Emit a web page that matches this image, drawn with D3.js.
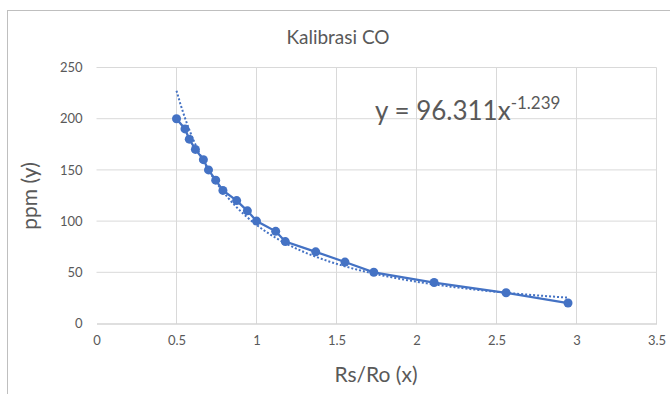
<!DOCTYPE html>
<html>
<head>
<meta charset="utf-8">
<script src="https://cdn.jsdelivr.net/npm/d3@7"></script>
<style>
  body { margin: 0; background: #fff; }
  text { font-family: Lato, "Open Sans", sans-serif; fill: #595959; }
</style>
</head>
<body>
<div id="chart-area"></div>
<script>
/*
*    Kalibrasi CO
*/

var rsRo = [0.5, 0.553, 0.58, 0.618, 0.668, 0.70, 0.745, 0.79, 0.876, 0.943, 1.0, 1.12, 1.18, 1.37, 1.553, 1.733, 2.11, 2.56, 2.947];
var ppm = [200, 190, 180, 170, 160, 150, 140, 130, 120, 110, 100, 90, 80, 70, 60, 50, 40, 30, 20];
var xTicks = [0, 0.5, 1, 1.5, 2, 2.5, 3, 3.5];
var yTicks = [0, 50, 100, 150, 200, 250];
var trendA = 96.311;
var trendB = -1.239;

var points = rsRo.map(function(d, i) { return { x: d, y: ppm[i] }; });

var svg = d3.select("#chart-area").append("svg")
    .attr("width", 670)
    .attr("height", 394);

// chart frame
svg.append("rect")
    .attr("x", 7.5)
    .attr("y", 10.5)
    .attr("width", 700)
    .attr("height", 420)
    .attr("fill", "white")
    .attr("stroke", "#bfbfbf");

var x = d3.scaleLinear().domain([0, 3.5]).range([96.5, 656.5]);
var y = d3.scaleLinear().domain([0, 250]).range([323.5, 67.5]);

// gridlines
svg.append("g").selectAll("line.h")
    .data(yTicks.slice(1))
    .enter().append("line")
    .attr("x1", x(0)).attr("x2", x(3.5))
    .attr("y1", function(d) { return y(d); })
    .attr("y2", function(d) { return y(d); })
    .attr("stroke", "#d9d9d9");

svg.append("g").selectAll("line.v")
    .data(xTicks.slice(1))
    .enter().append("line")
    .attr("x1", function(d) { return x(d); })
    .attr("x2", function(d) { return x(d); })
    .attr("y1", y(0)).attr("y2", y(250))
    .attr("stroke", "#d9d9d9");

// axes
var xAxis = svg.append("g")
    .attr("transform", "translate(0," + y(0) + ")")
    .call(d3.axisBottom(x).tickValues(xTicks).tickSize(0).tickPadding(12)
        .tickFormat(function(d) { return d; }));
xAxis.select(".domain").attr("stroke", "#bfbfbf");
xAxis.selectAll("text").attr("font-size", 13).attr("fill", "#595959");

var yAxis = svg.append("g")
    .attr("transform", "translate(" + x(0) + ",0)")
    .call(d3.axisLeft(y).tickValues(yTicks).tickSize(0).tickPadding(14));
yAxis.select(".domain").remove();
yAxis.selectAll("text").attr("font-size", 13).attr("fill", "#595959");

// trendline (power)
var trend = d3.range(0, 101).map(function(i) {
    var xv = rsRo[0] + (rsRo[rsRo.length - 1] - rsRo[0]) * i / 100;
    return { x: xv, y: trendA * Math.pow(xv, trendB) };
});

var line = d3.line()
    .x(function(d) { return x(d.x); })
    .y(function(d) { return y(d.y); });

svg.append("path")
    .datum(trend)
    .attr("d", line)
    .attr("fill", "none")
    .attr("stroke", "#4472c4")
    .attr("stroke-width", 2)
    .attr("stroke-dasharray", "2,2");

// data line
svg.append("path")
    .datum(points)
    .attr("d", line)
    .attr("fill", "none")
    .attr("stroke", "#4472c4")
    .attr("stroke-width", 2.25);

svg.append("g").selectAll("circle")
    .data(points)
    .enter().append("circle")
    .attr("cx", function(d) { return x(d.x); })
    .attr("cy", function(d) { return y(d.y); })
    .attr("r", 4.5)
    .attr("fill", "#4472c4");

// texts
svg.append("text")
    .attr("x", 338).attr("y", 44)
    .attr("text-anchor", "middle")
    .attr("font-size", 19)
    .text("Kalibrasi CO");

var eq = svg.append("text")
    .attr("x", 375).attr("y", 120)
    .attr("font-size", 26);
eq.append("tspan").text("y = " + trendA + "x");
eq.append("tspan").attr("dy", -11).attr("font-size", 17).text(trendB);

svg.append("text")
    .attr("x", 376).attr("y", 382)
    .attr("text-anchor", "middle")
    .attr("font-size", 21)
    .text("Rs/Ro (x)");

svg.append("text")
    .attr("transform", "translate(37,196) rotate(-90)")
    .attr("text-anchor", "middle")
    .attr("font-size", 21)
    .text("ppm (y)");
</script>
</body>
</html>
